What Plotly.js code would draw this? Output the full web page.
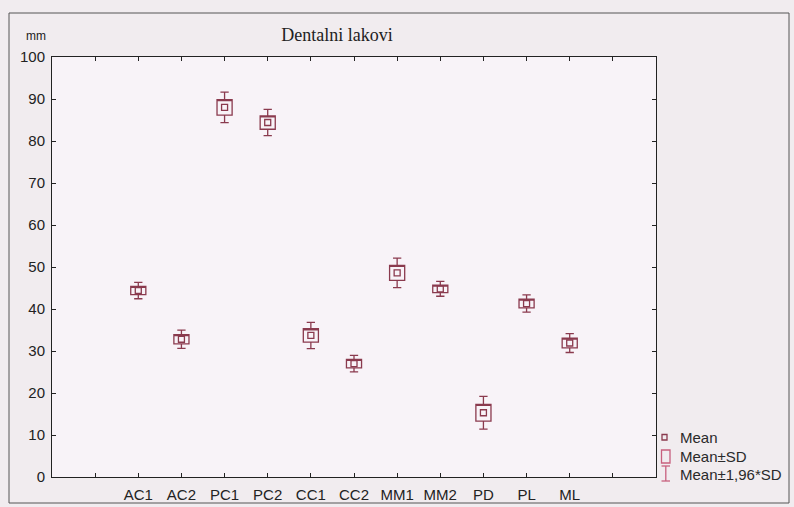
<!DOCTYPE html>
<html>
<head>
<meta charset="utf-8">
<script src="https://cdn.plot.ly/plotly-3.0.1.min.js"></script>
<style>html,body{margin:0;padding:0;background:#f1ecef;}#chart{width:794px;height:507px;}</style>
</head>
<body>
<div id="chart"></div>
<script>
const categories = ['AC1','AC2','PC1','PC2','CC1','CC2','MM1','MM2','PD','PL','ML'];
const means = [44.4, 32.8, 88.0, 84.4, 33.7, 27.0, 48.6, 44.8, 15.3, 41.3, 31.9];
const sds   = [1.0, 1.1, 1.85, 1.6, 1.6, 1.0, 1.8, 0.9, 2.0, 1.05, 1.15];
const yTicks = [0,10,20,30,40,50,60,70,80,90,100];

const pos = categories.map((c,i)=>i);
const q1 = means.map((m,i)=>m - sds[i]);
const q3 = means.map((m,i)=>m + sds[i]);
const lo = means.map((m,i)=>m - 1.96*sds[i]);
const hi = means.map((m,i)=>m + 1.96*sds[i]);

const markColor = '#8a3a4e';
const legColor = '#c8607e';

const traces = [
  {
    type:'box', x:pos, q1:q1, median:q3, q3:q3, lowerfence:lo, upperfence:hi,
    width:0.35, whiskerwidth:0.55, boxpoints:false,
    line:{color:markColor, width:1.3}, fillcolor:'rgba(0,0,0,0)',
    hoverinfo:'skip', showlegend:false
  },
  {
    type:'scatter', mode:'markers', x:pos, y:means,
    marker:{symbol:'square-open', size:6, color:markColor, line:{width:1.3, color:markColor}},
    showlegend:false
  }
];

const tickvals = [];
const ticktext = [];
for (let i=-2;i<=categories.length+1;i++){ tickvals.push(i); ticktext.push(i>=0 && i<categories.length ? categories[i] : ''); }

// plot area in pixels: left 52, right 656, top 57, bottom 477
const PL = 52, PW = 604, PT = 57, PH = 420;
const px = v => (v-PL)/PW;
const py = v => (PT+PH-v)/PH;

const shapes = [
  {type:'rect', xref:'paper', yref:'paper', x0:px(9), x1:px(789), y0:py(503), y1:py(13), line:{color:'#555', width:1}},
  {type:'rect', xref:'paper', yref:'paper', x0:px(662), x1:px(667), y0:py(440), y1:py(434.5), line:{color:markColor, width:1.3}},
  {type:'rect', xref:'paper', yref:'paper', x0:px(661.5), x1:px(670), y0:py(463), y1:py(450), line:{color:legColor, width:1.3}},
  {type:'line', xref:'paper', yref:'paper', x0:px(665.8), x1:px(665.8), y0:py(481), y1:py(466), line:{color:legColor, width:1.3}},
  {type:'line', xref:'paper', yref:'paper', x0:px(661.5), x1:px(670), y0:py(466), y1:py(466), line:{color:legColor, width:1.3}},
  {type:'line', xref:'paper', yref:'paper', x0:px(661.5), x1:px(670), y0:py(481), y1:py(481), line:{color:legColor, width:1.3}}
];

const legFont = {family:'Liberation Sans, Arial, sans-serif', size:15, color:'#2a2a2a'};
const annotations = [
  {text:'mm', xref:'paper', yref:'paper', x:px(24), y:py(36), xanchor:'left', yanchor:'middle', showarrow:false, font:{family:'Liberation Sans, Arial, sans-serif', size:12, color:'#222'}},
  {text:'Mean', xref:'paper', yref:'paper', x:px(678), y:py(437), xanchor:'left', yanchor:'middle', showarrow:false, font:legFont},
  {text:'Mean±SD', xref:'paper', yref:'paper', x:px(678), y:py(456), xanchor:'left', yanchor:'middle', showarrow:false, font:legFont},
  {text:'Mean±1,96*SD', xref:'paper', yref:'paper', x:px(678), y:py(474), xanchor:'left', yanchor:'middle', showarrow:false, font:legFont}
];

const tickFont = {family:'Liberation Sans, Arial, sans-serif', size:15, color:'#222'};
const layout = {
  width:794, height:507,
  margin:{l:PL, r:794-PL-PW, t:PT, b:507-PT-PH, pad:0},
  paper_bgcolor:'#f1ecef', plot_bgcolor:'#f8f3f8',
  title:{text:'Dentalni lakovi', x:337/794, xref:'container', xanchor:'center', y:1-35/507, yref:'container', yanchor:'middle',
         font:{family:'Liberation Serif, Times New Roman, serif', size:18, color:'#222'}},
  xaxis:{range:[-2, categories.length+1], tickvals:tickvals, ticktext:ticktext, ticks:'inside', ticklen:4, tickcolor:'#222',
         showgrid:false, zeroline:false, showline:true, linecolor:'#222', linewidth:1, mirror:'ticks',
         tickfont:tickFont, ticklabelstandoff:4},
  yaxis:{range:[0,100], tickvals:yTicks, ticks:'inside', ticklen:4, tickcolor:'#222',
         showgrid:false, zeroline:false, showline:true, linecolor:'#222', linewidth:1, mirror:'ticks',
         tickfont:tickFont, ticklabelstandoff:3},
  shapes:shapes, annotations:annotations, showlegend:false
};

Plotly.newPlot('chart', traces, layout, {displayModeBar:false, staticPlot:true});
</script>
</body>
</html>
